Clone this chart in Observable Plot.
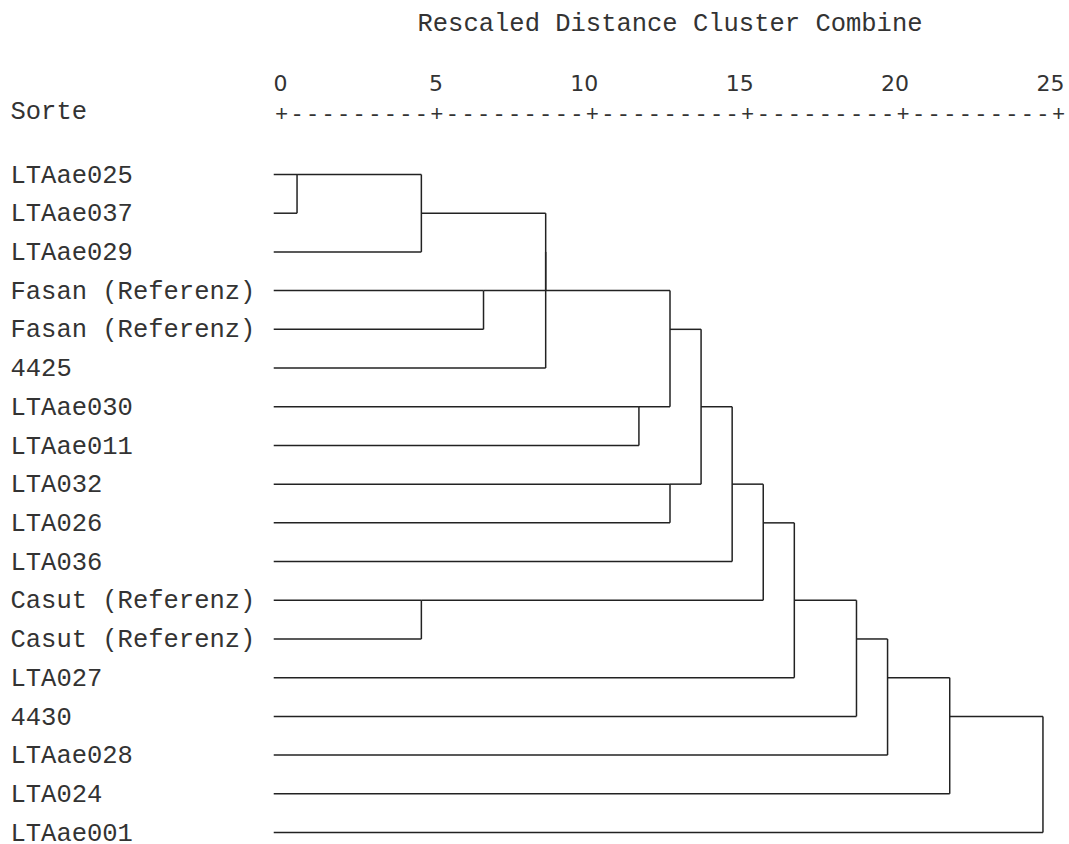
<!DOCTYPE html>
<html>
<head>
<meta charset="utf-8">
<script src="https://cdn.jsdelivr.net/npm/d3@7"></script>
<script src="https://cdn.jsdelivr.net/npm/@observablehq/plot@0.6"></script>
<style>
  html, body { margin: 0; padding: 0; background: #fff; }
  svg { display: block; }
</style>
</head>
<body>
<div id="chart"></div>
<script>
// ---- data ----
const title = "Rescaled Distance Cluster Combine";
const axisLabel = "Sorte";
const labels = [
  "LTAae025", "LTAae037", "LTAae029", "Fasan (Referenz)", "Fasan (Referenz)",
  "4425", "LTAae030", "LTAae011", "LTA032", "LTA026", "LTA036",
  "Casut (Referenz)", "Casut (Referenz)", "LTA027", "4430", "LTAae028",
  "LTA024", "LTAae001"
];
const ticks = [0, 5, 10, 15, 20, 25];
// merge steps: [childA, childB, rescaled distance]; ids >= labels.length are earlier merges
const mergeA = [0, 18, 3, 19, 21, 6, 22, 8, 24, 26, 11, 27, 29, 30, 31, 32, 33];
const mergeB = [1, 2, 4, 20, 5, 7, 23, 9, 25, 10, 12, 28, 13, 14, 15, 16, 17];
const mergeDist = [0.5, 4.5, 6.5, 8.5, 8.5, 11.5, 12.5, 12.5, 13.5, 14.5, 4.5, 15.5, 16.5, 18.5, 19.5, 21.5, 24.5];
const leafStart = -0.25;

// ---- build segments from the tree ----
const nodeRow = labels.map((d, i) => i);
const nodeX = labels.map(() => leafStart);
const hSegs = [], vSegs = [];
mergeA.forEach((a, k) => {
  const b = mergeB[k], dist = mergeDist[k];
  hSegs.push({x1: nodeX[a], x2: dist, y: nodeRow[a]});
  hSegs.push({x1: nodeX[b], x2: dist, y: nodeRow[b]});
  vSegs.push({x: dist, y1: nodeRow[a], y2: nodeRow[b]});
  nodeRow.push(Math.floor((nodeRow[a] + nodeRow[b]) / 2));
  nodeX.push(dist);
});
const ruler = d3.range(ticks[0], ticks[ticks.length - 1] + 0.25, 0.5)
  .map(v => ({v, c: ticks.includes(v) ? "+" : "-"}));

const mono = "'Courier New', Courier, 'Liberation Mono', monospace";
const ink = "#333";

const chart = Plot.plot({
  width: 1069,
  height: 844,
  marginLeft: 281,
  marginRight: 11,
  marginTop: 174,
  marginBottom: 12,
  x: {domain: [0, 25], axis: null},
  y: {domain: [0, labels.length - 1], reverse: true, axis: null},
  style: {background: "#fff"},
  marks: [
    Plot.text([title], {frameAnchor: "top", lineAnchor: "middle", dy: -152, fontFamily: mono, fontSize: 25.5, fill: ink}),
    Plot.text(ticks, {x: d => d, frameAnchor: "top", lineAnchor: "middle", dy: -91, dx: 6, textAnchor: "end",
      fontFamily: "'DejaVu Sans', sans-serif", fontSize: 22, fill: ink}),
    Plot.text(ruler, {x: "v", text: "c", frameAnchor: "top", lineAnchor: "middle", dy: -61,
      fontFamily: mono, fontSize: 22, fill: ink}),
    Plot.text([axisLabel], {frameAnchor: "top-left", lineAnchor: "middle", dx: -271, dy: -64, textAnchor: "start",
      fontFamily: mono, fontSize: 25.5, fill: ink}),
    Plot.text(labels, {y: (d, i) => i, frameAnchor: "left", lineAnchor: "middle", dx: -271, textAnchor: "start",
      fontFamily: mono, fontSize: 25.5, fill: ink}),
    Plot.link(hSegs, {x1: "x1", x2: "x2", y1: "y", y2: "y", stroke: "#222", strokeWidth: 1.5}),
    Plot.link(vSegs, {x1: "x", x2: "x", y1: "y1", y2: "y2", stroke: "#222", strokeWidth: 1.5})
  ]
});
document.getElementById("chart").append(chart);
</script>
</body>
</html>
